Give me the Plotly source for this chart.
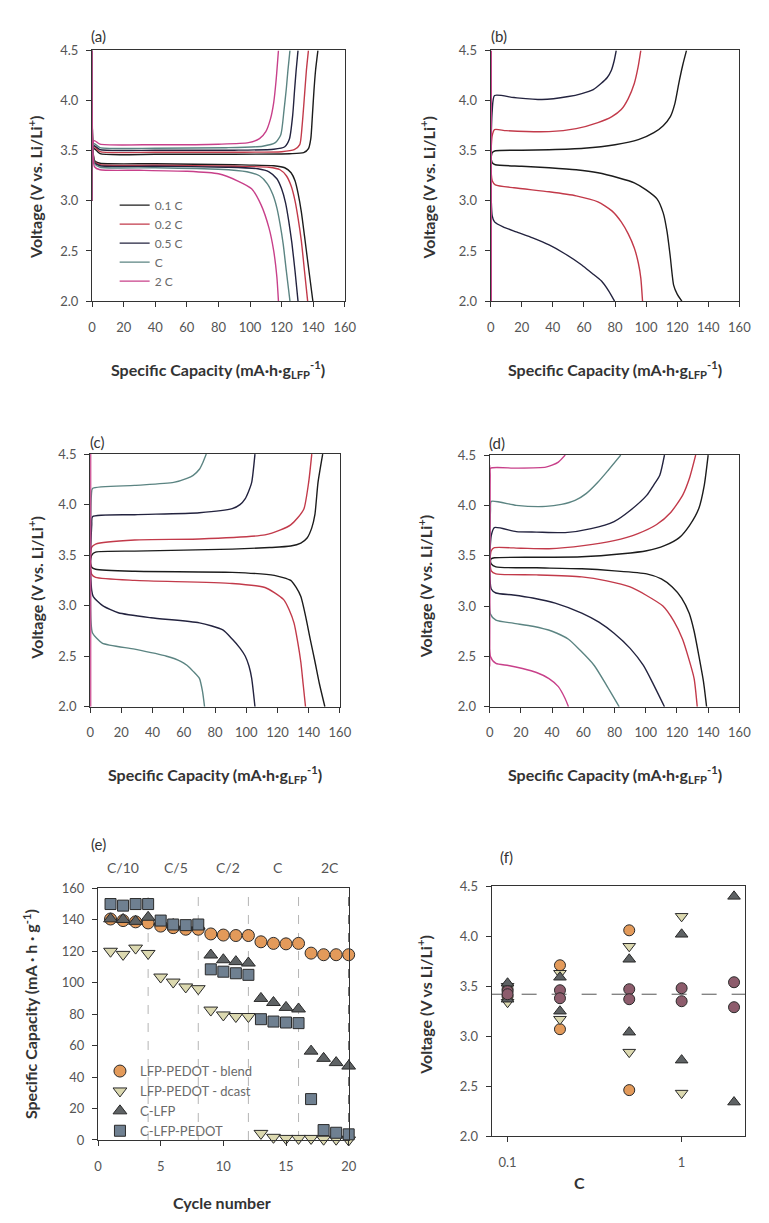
import math
import plotly.graph_objects as go

W, H = 769, 1223

# ---------------- data ----------------
rate_names = ["0.1 C", "0.2 C", "0.5 C", "C", "2 C"]
rate_colors = ["#1c1c1c", "#c23a4a", "#23233f", "#5b8482", "#c8408a"]

# Panel (a): charge / discharge curves, capacity (mAh/g) and voltage (V), one list per rate
a_charge_cap = [
    [0, 0.4, 1.5, 5, 40, 90, 125, 134, 137, 138.5, 139.5, 140.5, 141.5, 143],
    [0, 0.4, 1.5, 5, 40, 90, 120, 128, 131.5, 133, 134.5, 135.7, 137],
    [0, 0.4, 1.5, 5, 40, 90, 115, 122, 125, 127, 128.2, 129.2, 130.4],
    [0, 0.4, 1.5, 5, 40, 85, 108, 116, 119.5, 121.5, 123, 124, 125.3],
    [0, 0.4, 1.5, 5, 40, 80, 99, 106, 110, 113, 115, 116.5, 118],
]
a_charge_v = [
    [3.0, 3.5, 3.52, 3.47, 3.465, 3.465, 3.47, 3.48, 3.52, 3.62, 3.85, 4.1, 4.3, 4.5],
    [3.0, 3.52, 3.54, 3.49, 3.485, 3.485, 3.49, 3.51, 3.56, 3.75, 4.05, 4.3, 4.5],
    [3.0, 3.53, 3.55, 3.51, 3.505, 3.505, 3.515, 3.54, 3.62, 3.85, 4.1, 4.3, 4.5],
    [3.0, 3.55, 3.57, 3.53, 3.525, 3.53, 3.545, 3.58, 3.66, 3.9, 4.12, 4.3, 4.5],
    [3.0, 3.58, 3.6, 3.565, 3.56, 3.565, 3.58, 3.62, 3.69, 3.82, 3.98, 4.2, 4.5],
]
a_dis_cap = [
    [0, 0.3, 1.5, 5, 40, 90, 115, 122, 126, 128.5, 130.5, 132.5, 134.5, 136.6, 139.8],
    [0, 0.3, 1.5, 5, 40, 90, 112, 119, 123, 126, 128.5, 130.5, 132.5, 134.5, 136.5],
    [0, 0.3, 1.5, 5, 40, 85, 105, 112, 117, 120, 122.5, 124.5, 126.5, 128.5, 130.4],
    [0, 0.3, 1.5, 5, 40, 80, 98, 106, 111, 114.5, 117, 119, 121, 123, 125.3],
    [0, 0.3, 1.5, 5, 30, 60, 80, 92, 101, 107, 112, 115, 117, 118],
]
a_dis_v = [
    [4.5, 3.6, 3.4, 3.375, 3.37, 3.36, 3.35, 3.33, 3.28, 3.2, 3.07, 2.89, 2.65, 2.39, 2.0],
    [4.5, 3.6, 3.39, 3.36, 3.355, 3.345, 3.335, 3.31, 3.25, 3.15, 3.0, 2.82, 2.6, 2.3, 2.0],
    [4.5, 3.6, 3.38, 3.35, 3.345, 3.335, 3.32, 3.29, 3.22, 3.12, 2.98, 2.8, 2.58, 2.3, 2.0],
    [4.5, 3.6, 3.37, 3.335, 3.33, 3.315, 3.29, 3.25, 3.17, 3.06, 2.93, 2.77, 2.57, 2.3, 2.0],
    [4.5, 3.6, 3.34, 3.31, 3.305, 3.295, 3.27, 3.2, 3.12, 2.96, 2.73, 2.5, 2.24, 2.0],
]

# Panel (b)
b_charge_cap = [
    [0, 1, 3, 20, 37.6, 60, 80, 95, 105, 111, 115.6, 118.5, 121, 123.5, 126],
    [0, 1, 2.5, 10, 37.5, 55, 69, 78, 84, 88.5, 92.4, 94.8, 96.6],
    [0, 1, 2.5, 15, 33, 50, 58.6, 66, 71, 75, 77.6, 79.5, 80.8],
    [],
    [0.4, 0.4],
]
b_charge_v = [
    [3.38, 3.48, 3.5, 3.505, 3.51, 3.525, 3.56, 3.61, 3.68, 3.75, 3.84, 3.97, 4.17, 4.35, 4.5],
    [3.4, 3.65, 3.71, 3.7, 3.69, 3.72, 3.78, 3.84, 3.91, 4.02, 4.17, 4.33, 4.5],
    [3.4, 3.9, 4.05, 4.03, 4.01, 4.04, 4.07, 4.11, 4.17, 4.23, 4.3, 4.4, 4.5],
    [],
    [2.0, 4.5],
]
b_dis_cap = [
    [0, 1, 3, 20, 37.6, 55, 69, 82, 92.4, 100, 107, 111, 113.5, 115.5, 117.7, 120, 123],
    [0, 1, 3, 15, 37.6, 55, 69, 78, 84, 88.5, 92.4, 95, 96.6, 97.7],
    [0, 1, 2.5, 8, 16.5, 27, 37.6, 48, 58.6, 65, 71.3, 76, 79.7],
    [],
    [],
]
b_dis_v = [
    [3.45, 3.38, 3.36, 3.345, 3.33, 3.31, 3.28, 3.23, 3.18, 3.11, 3.02, 2.88, 2.69, 2.45, 2.16, 2.07, 2.0],
    [3.4, 3.2, 3.16, 3.13, 3.09, 3.05, 2.99, 2.9, 2.79, 2.67, 2.53, 2.38, 2.23, 2.0],
    [3.3, 2.85, 2.79, 2.74, 2.69, 2.63, 2.56, 2.47, 2.36, 2.28, 2.2, 2.1, 2.0],
    [],
    [],
]

# Panel (c)
c_charge_cap = [
    [0, 1, 3.5, 28.5, 60, 91, 115, 128.5, 135, 139, 142, 144, 146, 149],
    [0, 1, 3.5, 28.5, 70, 112, 122, 128.5, 133, 137, 140, 142],
    [0, 1, 1.5, 28.5, 70, 91, 96, 99.4, 101.5, 103.5, 105.6],
    [0, 0.8, 1.5, 28.5, 53.5, 62, 66, 70, 72.3, 74.4],
    [0.3, 0.3],
]
c_charge_v = [
    [3.4, 3.5, 3.53, 3.54, 3.55, 3.56, 3.575, 3.59, 3.62, 3.67, 3.77, 3.9, 4.22, 4.5],
    [3.45, 3.58, 3.61, 3.65, 3.66, 3.7, 3.75, 3.8, 3.87, 3.96, 4.22, 4.5],
    [3.45, 3.8, 3.88, 3.9, 3.92, 3.96, 4.0, 4.06, 4.13, 4.22, 4.5],
    [3.45, 4.1, 4.16, 4.19, 4.22, 4.26, 4.29, 4.35, 4.42, 4.5],
    [2.0, 4.5],
]
c_dis_cap = [
    [0, 1, 3.5, 28.5, 91, 118, 128.5, 132, 135, 138, 141, 144, 147, 150.4],
    [0, 1, 3.5, 28.5, 91, 112, 118, 124, 127.5, 130.6, 133, 135, 136.5, 138],
    [0, 1, 2, 8, 18, 39, 70, 85, 91, 96, 99.4, 101.8, 103.5, 105.6],
    [0, 0.5, 1.5, 7.7, 28.5, 49, 58, 62, 66, 70, 72, 73.3],
    [],
]
c_dis_v = [
    [3.45, 3.38, 3.36, 3.34, 3.33, 3.3, 3.25, 3.18, 3.09, 2.9, 2.67, 2.45, 2.22, 2.0],
    [3.45, 3.31, 3.28, 3.25, 3.22, 3.18, 3.13, 3.06, 2.96, 2.83, 2.64, 2.44, 2.22, 2.0],
    [3.4, 3.15, 3.09, 3.0, 2.93, 2.88, 2.83, 2.76, 2.67, 2.58, 2.5, 2.4, 2.28, 2.0],
    [3.4, 2.85, 2.73, 2.63, 2.57, 2.5, 2.45, 2.41, 2.35, 2.28, 2.15, 2.0],
    [],
]

# Panel (d)
d_charge_cap = [
    [0, 1, 3, 30, 59, 85, 100.6, 112, 121.5, 128, 134, 137.5, 140],
    [0, 1, 3, 20, 38, 60, 79.7, 95, 107, 116, 123.6, 128, 132],
    [0, 1, 3, 17, 30, 48.4, 65, 79.7, 90, 100.6, 105, 109, 112],
    [0, 0.5, 1, 17, 36, 46, 54.7, 62, 69.3, 76, 84],
    [0, 0.3, 0.5, 17, 36, 40, 44, 48.4],
]
d_charge_v = [
    [3.42, 3.47, 3.48, 3.485, 3.49, 3.52, 3.55, 3.6, 3.68, 3.8, 3.97, 4.2, 4.5],
    [3.42, 3.55, 3.58, 3.575, 3.57, 3.6, 3.65, 3.72, 3.81, 3.93, 4.1, 4.27, 4.5],
    [3.45, 3.7, 3.78, 3.74, 3.735, 3.73, 3.77, 3.84, 3.95, 4.1, 4.2, 4.3, 4.5],
    [3.45, 3.95, 4.04, 4.0, 3.99, 4.01, 4.05, 4.12, 4.23, 4.35, 4.5],
    [2.4, 4.3, 4.37, 4.37, 4.38, 4.4, 4.43, 4.5],
]
d_dis_cap = [
    [0, 1, 4, 30, 59, 80, 100.6, 110, 117, 123, 127.8, 131, 134, 137, 139],
    [0, 1, 4, 30, 59, 75, 90, 100, 111, 118, 123.6, 127.5, 131, 133],
    [0, 1, 4, 15, 27.6, 42, 59, 70, 79.7, 90, 98.5, 105, 112],
    [0, 0.5, 4, 15, 27.6, 40, 50.5, 58, 67, 75, 83],
    [0, 0.5, 4, 12, 21, 30, 38, 44, 48.4, 50.5],
]
d_dis_v = [
    [3.5, 3.42, 3.39, 3.38, 3.37, 3.35, 3.32, 3.27, 3.19, 3.08, 2.93, 2.75, 2.51, 2.25, 2.0],
    [3.5, 3.35, 3.32, 3.31, 3.29, 3.25, 3.19, 3.11, 3.0, 2.85, 2.67, 2.48, 2.28, 2.0],
    [3.45, 3.17, 3.13, 3.11, 3.08, 3.03, 2.93, 2.84, 2.73, 2.58, 2.41, 2.22, 2.0],
    [3.45, 2.92, 2.86, 2.83, 2.8, 2.75, 2.67, 2.56, 2.41, 2.21, 2.0],
    [4.4, 2.5, 2.43, 2.41, 2.38, 2.34, 2.28, 2.2, 2.08, 2.0],
]

# Panel (e): rate capability
cycles = list(range(1, 21))
cap_blend = [140.5, 139.5, 138.7, 138, 136, 135, 134, 134, 131, 130.3, 130, 130,
             126, 125, 124.7, 125, 118.8, 117.8, 117.8, 117.8]
cap_dcast = [120, 118, 122, 118.6, 103.6, 100.4, 97.3, 96.2, 82.6, 79.5, 78.5, 78.5,
             4.2, 1.7, 1, 1, 1, 0.5, 0.5, 0]
cap_clfp = [140.6, 140.2, 139, 141.6, 139, 137, 136, 136, 117.6, 114.6, 113.4, 112.5,
            90, 87.4, 84.3, 83.3, 56.5, 51.9, 49.2, 47]
cap_clfp_pedot = [150, 149, 150, 150, 139.5, 137, 136.6, 137, 108.5, 107, 106, 105,
                  76.8, 75.3, 74.7, 74.3, 26, 6.3, 4.6, 3.6]
rate_boundaries = [4, 8, 12, 16]
rate_end = 20
rate_labels = ["C/10", "C/5", "C/2", "C", "2C"]
rate_label_x = [2, 6.2, 10.4, 14.4, 18.5]

# Panel (f): plateau voltages vs C-rate
f_blend_c = [0.1, 0.1, 0.2, 0.2, 0.5, 0.5]
f_blend_v = [3.47, 3.40, 3.71, 3.07, 4.06, 2.46]
f_dcast_c = [0.1, 0.1, 0.2, 0.2, 0.5, 0.5, 1, 1]
f_dcast_v = [3.50, 3.34, 3.63, 3.17, 3.90, 2.84, 4.20, 2.43]
f_clfp_c = [0.1, 0.1, 0.2, 0.2, 0.5, 0.5, 1, 1, 2, 2]
f_clfp_v = [3.53, 3.37, 3.59, 3.25, 3.77, 3.04, 4.02, 2.76, 4.40, 2.34]
f_pedot_c = [0.1, 0.1, 0.2, 0.2, 0.5, 0.5, 1, 1, 2, 2]
f_pedot_v = [3.45, 3.42, 3.46, 3.38, 3.47, 3.37, 3.48, 3.35, 3.54, 3.29]
f_equilibrium = 3.42

# ---------------- figure ----------------
FONT = "Lato, 'Open Sans', sans-serif"
TICKC = "#555555"
TITLEC = "#333333"

def dx(p):
    return p / W

def dy(p):
    return 1 - p / H

# pixel boxes: (x0, x1), (ytop, ybottom)
boxes = [
    ((90, 348), (43, 297)),
    ((497, 751), (43, 297)),
    ((88, 343), (452, 708)),
    ((496, 751), (453, 708)),
    ((96, 352), (892, 1147)),
    ((498, 757), (890, 1143)),
]

fig = go.Figure()

curve_sets = [
    (a_charge_cap, a_charge_v, a_dis_cap, a_dis_v),
    (b_charge_cap, b_charge_v, b_dis_cap, b_dis_v),
    (c_charge_cap, c_charge_v, c_dis_cap, c_dis_v),
    (d_charge_cap, d_charge_v, d_dis_cap, d_dis_v),
]

for k, (cc, cv, dc, dv) in enumerate(curve_sets):
    xa = "x" if k == 0 else f"x{k+1}"
    ya = "y" if k == 0 else f"y{k+1}"
    for i in range(5):
        if cc[i]:
            fig.add_trace(go.Scatter(
                x=cc[i], y=cv[i], mode="lines", xaxis=xa, yaxis=ya,
                line=dict(color=rate_colors[i], width=1.4, shape="spline", smoothing=0.6),
                name=rate_names[i], legend="legend2",
                showlegend=(k == 0), legendgroup=rate_names[i]))
        if dc[i]:
            fig.add_trace(go.Scatter(
                x=dc[i], y=dv[i], mode="lines", xaxis=xa, yaxis=ya,
                line=dict(color=rate_colors[i], width=1.4, shape="spline", smoothing=0.6),
                name=rate_names[i], showlegend=False, legendgroup=rate_names[i]))

# panel (e)
ORANGE = "#e39a5a"
KHAKI = "#dcd9b0"
DGREY = "#5e6264"
SLATE = "#6f8091"
MAUVE = "#8d5c6c"
EDGE = dict(color="#2a2a2a", width=1)

fig.add_trace(go.Scatter(x=cycles, y=cap_blend, mode="markers", xaxis="x5", yaxis="y5",
                         name="LFP-PEDOT - blend", cliponaxis=False,
                         marker=dict(symbol="circle", size=12, color=ORANGE, line=EDGE)))
fig.add_trace(go.Scatter(x=cycles, y=cap_dcast, mode="markers", xaxis="x5", yaxis="y5",
                         name="LFP-PEDOT - dcast", cliponaxis=False,
                         marker=dict(symbol="triangle-down", size=12, color=KHAKI, line=EDGE)))
fig.add_trace(go.Scatter(x=cycles, y=cap_clfp, mode="markers", xaxis="x5", yaxis="y5",
                         name="C-LFP", cliponaxis=False,
                         marker=dict(symbol="triangle-up", size=12, color=DGREY, line=EDGE)))
fig.add_trace(go.Scatter(x=cycles, y=cap_clfp_pedot, mode="markers", xaxis="x5", yaxis="y5",
                         name="C-LFP-PEDOT", cliponaxis=False,
                         marker=dict(symbol="square", size=11, color=SLATE, line=EDGE)))

# panel (f)
fig.add_trace(go.Scatter(x=f_blend_c, y=f_blend_v, mode="markers", xaxis="x6", yaxis="y6",
                         showlegend=False, cliponaxis=False,
                         marker=dict(symbol="circle", size=11, color=ORANGE, line=EDGE)))
fig.add_trace(go.Scatter(x=f_dcast_c, y=f_dcast_v, mode="markers", xaxis="x6", yaxis="y6",
                         showlegend=False, cliponaxis=False,
                         marker=dict(symbol="triangle-down", size=11, color=KHAKI, line=EDGE)))
fig.add_trace(go.Scatter(x=f_clfp_c, y=f_clfp_v, mode="markers", xaxis="x6", yaxis="y6",
                         showlegend=False, cliponaxis=False,
                         marker=dict(symbol="triangle-up", size=11, color=DGREY, line=EDGE)))
fig.add_trace(go.Scatter(x=f_pedot_c, y=f_pedot_v, mode="markers", xaxis="x6", yaxis="y6",
                         showlegend=False, cliponaxis=False,
                         marker=dict(symbol="circle", size=11, color=MAUVE, line=EDGE)))

# axes
layout = dict(
    width=W, height=H, margin=dict(l=0, r=0, t=0, b=0),
    paper_bgcolor="white", plot_bgcolor="white",
    font=dict(family=FONT, color=TICKC, size=13),
    showlegend=True,
)

def axis_common():
    return dict(showline=True, linecolor="#333333", linewidth=1.2, mirror=True,
                ticks="outside", ticklen=5, tickwidth=1, tickcolor="#333333",
                showgrid=False, zeroline=False,
                tickfont=dict(family=FONT, size=13, color=TICKC))

for k in range(6):
    (x0, x1), (yt, yb) = boxes[k]
    xkey = "xaxis" if k == 0 else f"xaxis{k+1}"
    ykey = "yaxis" if k == 0 else f"yaxis{k+1}"
    xa = axis_common()
    ya = axis_common()
    xa.update(domain=[dx(x0), dx(x1)], anchor="y" if k == 0 else f"y{k+1}",
              ticklabelstandoff=9)
    ya.update(domain=[dy(yb), dy(yt)], anchor="x" if k == 0 else f"x{k+1}",
              ticklabelstandoff=5)
    if k < 4:
        xa.update(range=[0, 160], tickvals=list(range(0, 161, 20)))
        ya.update(range=[2.0, 4.5], tickvals=[2.0, 2.5, 3.0, 3.5, 4.0, 4.5], tickformat=".1f")
    elif k == 4:
        xa.update(range=[0, 20], tickvals=[0, 5, 10, 15, 20])
        ya.update(range=[0, 160], tickvals=list(range(0, 161, 20)))
    else:
        xa.update(type="log", range=[math.log10(0.081), math.log10(2.32)],
                  tickvals=[0.1, 1], ticktext=["0.1", "1"])
        ya.update(range=[2.0, 4.5], tickvals=[2.0, 2.5, 3.0, 3.5, 4.0, 4.5], tickformat=".1f")
    layout[xkey] = xa
    layout[ykey] = ya

layout["legend"] = dict(x=dx(98), y=dy(1062), xanchor="left", yanchor="top",
                        bgcolor="rgba(0,0,0,0)", font=dict(family=FONT, size=13, color="#6a6a6a"),
                        tracegroupgap=0)
layout["legend2"] = dict(x=dx(113), y=dy(185), xanchor="left", yanchor="top",
                         bgcolor="rgba(0,0,0,0)", font=dict(family=FONT, size=12, color="#6a6a6a"),
                         tracegroupgap=0)

fig.update_layout(**layout)

# shapes for panel (e) rate boundaries and (f) equilibrium line
for b in rate_boundaries:
    fig.add_shape(type="line", xref="x5", yref="y5 domain", x0=b, x1=b, y0=0, y1=1,
                  line=dict(color="#b5b5b5", width=1, dash="dash"), layer="below")
fig.add_shape(type="line", xref="x5", yref="y5 domain", x0=rate_end, x1=rate_end, y0=0, y1=1,
              line=dict(color="#222222", width=1.2, dash="dash"), layer="below")
fig.add_shape(type="line", xref="x6 domain", yref="y6", x0=0, x1=1,
              y0=f_equilibrium, y1=f_equilibrium,
              line=dict(color="#555555", width=1, dash="longdash"), layer="below")

# annotations
ann = []
def add_text(text, x, y, size, color=TITLEC, angle=0, xanchor="center", bold=False):
    t = f"<b>{text}</b>" if bold else text
    ann.append(dict(text=t, x=dx(x), y=dy(y), xref="paper", yref="paper",
                    xanchor=xanchor, yanchor="middle", showarrow=False, textangle=angle,
                    font=dict(family=FONT, size=size, color=color)))

for lab, (x, y) in zip(["(a)", "(b)", "(c)", "(d)", "(e)", "(f)"],
                       [(87, 28), (495, 28), (86, 440), (493, 441), (87, 847), (505, 860)]):
    add_text(lab, x, y, 15, color="#333333", xanchor="left")

ytitle = "Voltage (V vs. Li/Li<sup>+</sup>)"
xtitle = "Specific Capacity (mA·h·g<sub>LFP</sub><sup>-1</sup>)"
add_text(ytitle, 32, 182, 16, angle=-90, bold=True)
add_text(ytitle, 433, 182, 16, angle=-90, bold=True)
add_text(ytitle, 32, 588, 16, angle=-90, bold=True)
add_text(ytitle, 430, 587, 16, angle=-90, bold=True)
add_text(xtitle, 219, 366, 16, bold=True)
add_text(xtitle, 624, 366, 16, bold=True)
add_text(xtitle, 215, 777, 16, bold=True)
add_text(xtitle, 624, 777, 16, bold=True)
add_text("Specific Capacity (mA · h · g<sup>-1</sup>)", 27, 1019, 16, angle=-90, bold=True)
add_text("Cycle number", 223, 1210, 16, bold=True)
add_text("Voltage (V vs Li/Li<sup>+</sup>)", 430, 1010, 16, angle=-90, bold=True)
add_text("C", 588, 1190, 16, bold=True)

for lab, xv in zip(rate_labels, rate_label_x):
    ann.append(dict(text=lab, x=xv, y=dy(871), xref="x5", yref="paper",
                    xanchor="center", yanchor="middle", showarrow=False,
                    font=dict(family=FONT, size=14, color="#555555")))

fig.update_layout(annotations=ann)

fig.write_html("out.html")
